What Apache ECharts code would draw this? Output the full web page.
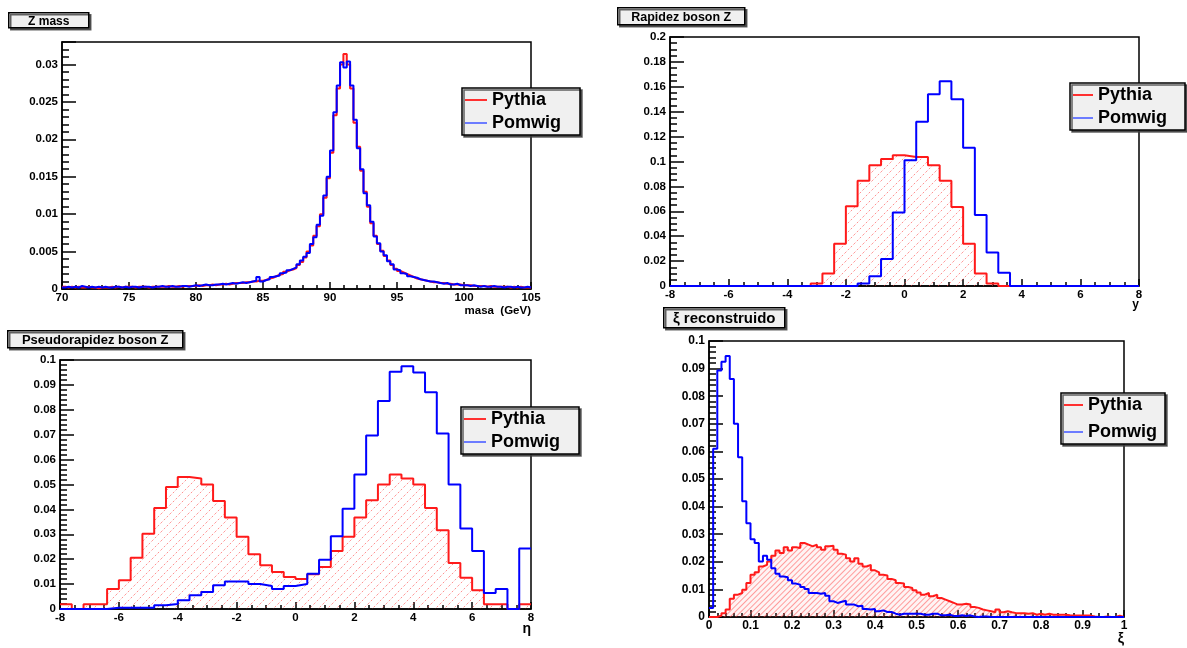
<!DOCTYPE html>
<html>
<head>
<meta charset="utf-8">
<script src="https://cdn.jsdelivr.net/npm/echarts@6/dist/echarts.min.js"></script>
<style>
  html, body { margin: 0; padding: 0; background: #fff; }
  #chart { width: 1187px; height: 648px; }
</style>
</head>
<body>
<div id="chart"></div>
<script>
// Z mass, 0.25 GeV bins from 70 to 105
var massStart = 70, massBin = 0.25;
var massPythia = [
  0.0003,0.0002,0.0003,0.0002,0.0003,0.0002,0.0002,0.0003,0.0002,0.0002,
  0.0001,0.0002,0.0002,0.0002,0.0003,0.0002,0.0003,0.0002,0.0003,0.0003,
  0.0003,0.0002,0.0003,0.0003,0.0003,0.0002,0.0003,0.0003,0.0003,0.0003,
  0.0003,0.0004,0.0003,0.0003,0.0004,0.0003,0.0004,0.0004,0.0004,0.0004,
  0.0005,0.0004,0.0005,0.0005,0.0006,0.0005,0.0006,0.0006,0.0007,0.0006,
  0.0007,0.0008,0.0008,0.0008,0.0009,0.0009,0.0010,0.0010,0.0011,0.0011,
  0.0012,0.0014,0.0015,0.0017,0.0019,0.0020,0.0023,0.0025,0.0026,0.0028,
  0.0032,0.0036,0.0042,0.0050,0.0058,0.0071,0.0084,0.0100,0.0122,0.0148,
  0.0182,0.0232,0.0268,0.0300,0.0314,0.0300,0.0268,0.0222,0.0190,0.0158,
  0.0130,0.0110,0.0088,0.0071,0.0060,0.0051,0.0044,0.0038,0.0032,0.0027,
  0.0024,0.0022,0.0020,0.0018,0.0016,0.0014,0.0013,0.0012,0.0011,0.0010,
  0.0009,0.0009,0.0008,0.0008,0.0007,0.0007,0.0006,0.0006,0.0006,0.0005,
  0.0005,0.0005,0.0004,0.0004,0.0004,0.0004,0.0003,0.0004,0.0003,0.0003,
  0.0003,0.0003,0.0003,0.0002,0.0003,0.0002,0.0003,0.0002,0.0002,0.0002
];
var massPomwig = [
  0.0002,0.0003,0.0002,0.0003,0.0002,0.0004,0.0003,0.0002,0.0003,0.0002,
  0.0003,0.0002,0.0003,0.0002,0.0002,0.0003,0.0003,0.0002,0.0003,0.0002,
  0.0003,0.0003,0.0002,0.0003,0.0003,0.0003,0.0002,0.0003,0.0003,0.0004,
  0.0003,0.0003,0.0004,0.0003,0.0003,0.0004,0.0004,0.0003,0.0004,0.0005,
  0.0004,0.0005,0.0006,0.0005,0.0005,0.0006,0.0006,0.0007,0.0006,0.0007,
  0.0008,0.0007,0.0008,0.0009,0.0008,0.0009,0.0010,0.0011,0.0016,0.0010,
  0.0012,0.0013,0.0016,0.0017,0.0018,0.0021,0.0022,0.0025,0.0027,0.0029,
  0.0033,0.0038,0.0043,0.0048,0.0060,0.0069,0.0086,0.0098,0.0125,0.0150,
  0.0185,0.0236,0.0272,0.0303,0.0296,0.0304,0.0272,0.0226,0.0188,0.0160,
  0.0128,0.0112,0.0090,0.0070,0.0061,0.0050,0.0045,0.0037,0.0033,0.0026,
  0.0025,0.0021,0.0020,0.0017,0.0016,0.0015,0.0013,0.0012,0.0011,0.0010,
  0.0010,0.0009,0.0008,0.0007,0.0008,0.0006,0.0006,0.0007,0.0005,0.0005,
  0.0005,0.0004,0.0005,0.0004,0.0003,0.0004,0.0003,0.0003,0.0004,0.0003,
  0.0003,0.0002,0.0003,0.0003,0.0002,0.0003,0.0002,0.0002,0.0003,0.0002
];

// rapidity y, 0.4 bins from -8 to 8
var rapStart = -8, rapBin = 0.4;
var rapPythia = [
  0,0,0,0,0,0,0,0,0,0,
  0,0,0.002,0.010,0.034,0.064,0.0846,0.097,0.102,0.105,
  0.1036,0.1036,0.097,0.0846,0.0635,0.034,0.010,0.002,0,0,
  0,0,0,0,0,0,0,0,0,0
];
var rapPomwig = [
  0,0,0,0,0,0,0,0,0,0,
  0,0,0,0,0,0,0.002,0.0078,0.0217,0.059,
  0.101,0.132,0.154,0.1644,0.150,0.111,0.057,0.027,0.0107,0,
  0,0,0,0,0,0,0,0,0,0
];

// pseudorapidity eta, 0.4 bins from -8 to 8
var etaStart = -8, etaBin = 0.4;
var etaPythia = [
  0.0019,0,0.0019,0.0019,0.008,0.0115,0.0206,0.0302,0.0406,0.049,
  0.053,0.0524,0.050,0.0434,0.0367,0.029,0.022,0.0176,0.0149,0.0129,
  0.012,0.014,0.0169,0.0233,0.029,0.0367,0.0437,0.050,0.054,0.0524,
  0.050,0.0406,0.0316,0.0185,0.0126,0.0075,0.0019,0.0019,0,0.0019
];
var etaPomwig = [
  0,0,0,0,0.0005,0.0005,0.0005,0.0005,0.0015,0.002,
  0.0035,0.0055,0.0068,0.0095,0.011,0.011,0.010,0.0092,0.008,0.0092,
  0.010,0.0142,0.0198,0.0292,0.0403,0.054,0.0697,0.0835,0.0953,0.0975,
  0.095,0.087,0.0705,0.050,0.0323,0.0233,0.0064,0.008,0,0.0243
];

// xi, 0.01 bins from 0 to 1
var xiStart = 0, xiBin = 0.01;
var xiPythia = [
  0,0,0.0005,0.0014,0.0027,0.0066,0.0081,0.0087,0.0099,0.0123,
  0.0153,0.0162,0.0183,0.0189,0.0201,0.0222,0.0241,0.0232,0.0253,0.0241,
  0.0253,0.025,0.0268,0.0262,0.0256,0.0262,0.0253,0.0244,0.0256,0.0258,
  0.0244,0.0229,0.0226,0.0213,0.0201,0.0213,0.0193,0.0183,0.0189,0.0169,
  0.0162,0.0153,0.015,0.0138,0.0133,0.0123,0.0121,0.0109,0.0105,0.0097,
  0.0089,0.0081,0.0087,0.0075,0.0081,0.0069,0.0063,0.0057,0.0051,0.0045,
  0.0045,0.0048,0.0045,0.0036,0.0033,0.0027,0.0024,0.0021,0.0017,0.0027,
  0.0017,0.0021,0.0017,0.0014,0.0014,0.0014,0.0012,0.0014,0.0008,0.0012,
  0.0008,0.0012,0.0008,0.0008,0.0008,0.0008,0.0006,0.0005,0.0005,0.0005,
  0.0005,0.0005,0.0002,0,0,0.0002,0,0,0.0005,0
];
var xiPomwig = [
  0.0033,0.061,0.0893,0.0925,0.0946,0.0862,0.070,0.0579,0.0419,0.034,
  0.0282,0.0268,0.0201,0.0222,0.0207,0.0177,0.0157,0.0147,0.0144,0.0133,
  0.0121,0.0117,0.0109,0.0101,0.0087,0.0087,0.0084,0.0087,0.0077,0.0057,
  0.0051,0.0055,0.0059,0.0045,0.0045,0.0039,0.0041,0.0029,0.0027,0.0029,
  0.0021,0.0024,0.0018,0.0018,0.0012,0.0008,0.0012,0.0012,0.0012,0.0012,
  0.0012,0.0008,0.0008,0.0012,0.0012,0.0006,0.0006,0.0008,0.0004,0.0004,
  0.0006,0.0004,0.0006,0.0002,0,0.0002,0.0002,0,0,0,
  0,0,0,0,0,0,0,0,0,0,
  0,0,0,0,0,0,0,0,0,0,
  0,0,0,0,0,0,0,0,0,0
];

var seriesNames = ['Pythia', 'Pomwig'];
var panelTitles = ['Z mass', 'Rapidez boson Z', 'Pseudorapidez boson Z', '\u03be reconstruido'];
var axisTitles = ['masa  (GeV)', 'y', '\u03b7', '\u03be'];

var font = '"Liberation Sans", Arial, sans-serif';
var RED = '#ff1a1a';
var BLUE = '#0000ff';

function steps(start, width, values) {
  var pts = values.map(function (v, i) {
    return [+(start + i * width).toFixed(4), v];
  });
  pts.push([+(start + values.length * width).toFixed(4), values[values.length - 1]]);
  return pts;
}

function makeHatch(gap, color, dash) {
  var c = document.createElement('canvas');
  c.width = gap;
  c.height = gap;
  var ctx = c.getContext('2d');
  ctx.strokeStyle = color;
  ctx.lineWidth = 1;
  if (dash) {
    ctx.setLineDash(dash);
  }
  ctx.beginPath();
  ctx.moveTo(-1, gap + 1);
  ctx.lineTo(gap + 1, -1);
  ctx.stroke();
  return c;
}

// dashed "/" hatch for the rapidity plots
var hatchCanvas = makeHatch(9, 'rgba(255,70,70,0.6)', [2, 2]);

// dense "/" hatch for xi
var fineDecal = {
  symbol: 'rect',
  symbolSize: 1,
  color: 'rgba(255,70,70,0.5)',
  backgroundColor: 'rgba(255,120,120,0.08)',
  dashArrayX: [1, 0],
  dashArrayY: [1, 3],
  rotation: -Math.PI / 4
};

var grids = [
  { left: 62, top: 42, width: 469, height: 247 },
  { left: 670, top: 37, width: 469, height: 249 },
  { left: 60, top: 360, width: 471, height: 249 },
  { left: 709, top: 341, width: 415, height: 276 }
];

var tickStyle = { color: '#000', width: 1.5 };

function xAxisFor(i, min, max, interval, minor, namePad, nameSize, labelSize) {
  return {
    type: 'value',
    gridIndex: i,
    min: min,
    max: max,
    interval: interval,
    name: axisTitles[i],
    nameLocation: 'end',
    nameGap: 0,
    nameMoveOverlap: false,
    nameTextStyle: {
      align: 'right',
      verticalAlign: 'top',
      padding: [namePad, 0, 0, 0],
      fontFamily: font,
      fontWeight: 'bold',
      fontSize: nameSize,
      color: '#000'
    },
    axisLine: { show: true, onZero: false, lineStyle: tickStyle },
    axisTick: { show: true, inside: true, length: 7, lineStyle: tickStyle },
    minorTick: { show: true, splitNumber: minor, length: 4, lineStyle: tickStyle },
    splitLine: { show: false },
    axisLabel: {
      margin: 3,
      fontFamily: font,
      fontWeight: 'bold',
      fontSize: labelSize,
      color: '#000'
    }
  };
}

function yAxisFor(i, max, interval, minor, labelSize, showMax) {
  return {
    type: 'value',
    gridIndex: i,
    min: 0,
    max: max,
    interval: interval,
    axisLine: { show: true, onZero: false, lineStyle: tickStyle },
    axisTick: { show: true, inside: true, length: 14, lineStyle: tickStyle },
    minorTick: { show: true, splitNumber: minor, length: 7, lineStyle: tickStyle },
    splitLine: { show: false },
    axisLabel: {
      margin: 4,
      showMaxLabel: showMax,
      fontFamily: font,
      fontWeight: 'bold',
      fontSize: labelSize,
      color: '#000'
    }
  };
}

// fill: null, 'pattern' or 'decal'
function hist(name, i, start, width, values, color, fill) {
  var s = {
    name: name,
    type: 'line',
    xAxisIndex: i,
    yAxisIndex: i,
    data: steps(start, width, values),
    step: 'end',
    symbol: 'none',
    showSymbol: false,
    silent: true,
    lineStyle: { color: color, width: 2 },
    itemStyle: { color: color }
  };
  if (fill === 'pattern') {
    s.areaStyle = { color: { image: hatchCanvas, repeat: 'repeat' }, opacity: 1 };
  } else if (fill === 'decal') {
    s.areaStyle = { color: 'rgba(255,255,255,0)', opacity: 1 };
    s.lineStyle.decal = fineDecal;
    s.itemStyle.decal = fineDecal;
  }
  return s;
}

function legendFor(left, top, padding, gap, iconW) {
  return {
    orient: 'vertical',
    left: left,
    top: top,
    padding: padding,
    itemGap: gap,
    itemWidth: iconW,
    itemHeight: 2,
    icon: 'rect',
    selectedMode: false,
    backgroundColor: '#f0f0f0',
    borderColor: '#000',
    borderWidth: 1.5,
    borderRadius: 0,
    shadowColor: 'rgba(60,60,60,0.8)',
    shadowBlur: 0,
    shadowOffsetX: 2,
    shadowOffsetY: 2,
    textStyle: { fontFamily: font, fontWeight: 'bold', fontSize: 18, color: '#000' },
    data: [
      { name: seriesNames[0], itemStyle: { color: '#ff3030', decal: 'none' } },
      { name: seriesNames[1], itemStyle: { color: '#6c7cff' } }
    ]
  };
}

function titleBox(i, x, y, w, h, size) {
  return {
    type: 'group',
    left: x,
    top: y,
    z: 100,
    children: [
      {
        type: 'rect',
        shape: { x: 0, y: 0, width: w, height: h },
        style: {
          fill: '#f0f0f0',
          stroke: '#000',
          lineWidth: 1.5,
          shadowBlur: 0,
          shadowOffsetX: 2,
          shadowOffsetY: 2,
          shadowColor: 'rgba(60,60,60,0.8)'
        }
      },
      {
        type: 'text',
        x: w / 2,
        y: h / 2 + 1,
        style: {
          text: panelTitles[i],
          align: 'center',
          verticalAlign: 'middle',
          font: 'bold ' + size + 'px ' + font,
          fill: '#000'
        }
      }
    ]
  };
}

var chart = echarts.init(document.getElementById('chart'), null, { renderer: 'canvas' });
chart.setOption({
  animation: false,
  backgroundColor: '#fff',
  grid: grids.map(function (g) {
    return {
      left: g.left,
      top: g.top,
      width: g.width,
      height: g.height,
      show: true,
      borderColor: '#000',
      borderWidth: 1.5,
      backgroundColor: 'transparent',
      containLabel: false,
      outerBoundsMode: 'none'
    };
  }),
  xAxis: [
    xAxisFor(0, 70, 105, 5, 5, 16, 11.5, 11.5),
    xAxisFor(1, -8, 8, 2, 4, 13, 12, 11.5),
    xAxisFor(2, -8, 8, 2, 4, 13, 14, 11.5),
    xAxisFor(3, 0, 1, 0.1, 5, 15, 14, 12)
  ],
  yAxis: [
    yAxisFor(0, 0.033, 0.005, 5, 11.5, false),
    yAxisFor(1, 0.2, 0.02, 4, 11.5, true),
    yAxisFor(2, 0.1, 0.01, 5, 11.5, true),
    yAxisFor(3, 0.1, 0.01, 5, 12, true)
  ],
  legend: [
    legendFor(462, 88, [3, 19, 3, 3], 5, 22),
    legendFor(1070, 83, [3, 18, 3, 3], 5, 20),
    legendFor(461, 407, [3, 19, 3, 3], 5, 22),
    legendFor(1061, 393, [3, 8, 3, 3], 9, 19)
  ],
  graphic: [
    titleBox(0, 8, 12, 80, 15, 12),
    titleBox(1, 617, 7, 127, 17, 12.5),
    titleBox(2, 7, 330, 175, 17, 13),
    titleBox(3, 663, 307, 121, 20, 15)
  ],
  series: [
    hist(seriesNames[0], 0, massStart, massBin, massPythia, RED, null),
    hist(seriesNames[1], 0, massStart, massBin, massPomwig, BLUE, null),
    hist(seriesNames[0], 1, rapStart, rapBin, rapPythia, RED, 'pattern'),
    hist(seriesNames[1], 1, rapStart, rapBin, rapPomwig, BLUE, null),
    hist(seriesNames[0], 2, etaStart, etaBin, etaPythia, RED, 'pattern'),
    hist(seriesNames[1], 2, etaStart, etaBin, etaPomwig, BLUE, null),
    hist(seriesNames[0], 3, xiStart, xiBin, xiPythia, RED, 'decal'),
    hist(seriesNames[1], 3, xiStart, xiBin, xiPomwig, BLUE, null)
  ]
});
</script>
</body>
</html>
